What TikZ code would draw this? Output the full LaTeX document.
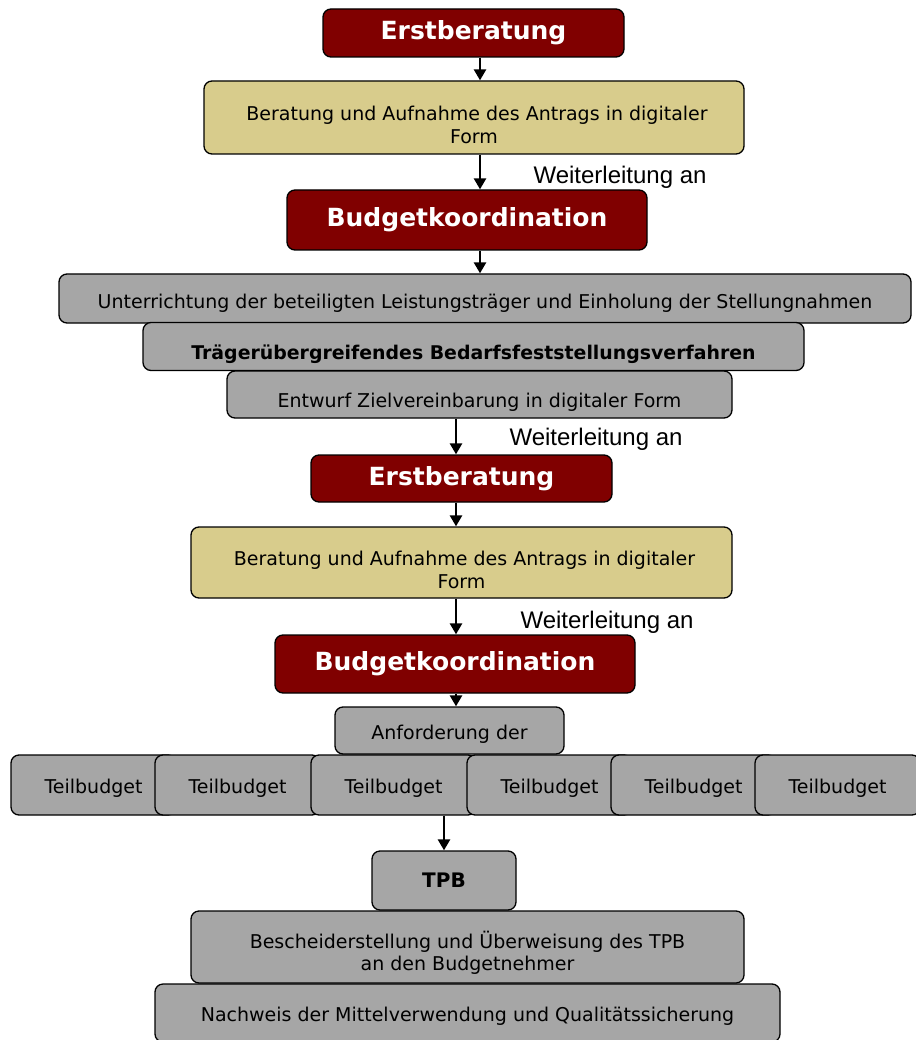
\documentclass[tikz,border=0pt]{standalone}
\usepackage{fontspec}
\setmainfont{DejaVu Sans}
\newfontfamily\arialfont{Liberation Sans}
\usetikzlibrary{arrows.meta}
\definecolor{darkred}{HTML}{800000}
\definecolor{khaki}{HTML}{D8CC8C}
\definecolor{boxgray}{HTML}{A6A6A6}
\tikzset{
  box/.style={draw=black, line width=1.3pt, rounded corners=8pt, inner sep=0pt, align=center,
    font=\fontsize{19}{22.5}\selectfont},
  title/.style={box, fill=darkred, text=white, font=\fontsize{25}{30}\selectfont\bfseries},
  khakibox/.style={box, fill=khaki},
  graybox/.style={box, fill=boxgray},
  lower/.style={text height=#1, text depth=5pt},
  arr/.style={-{Triangle[length=11pt,width=12pt]}, line width=2.6pt},
  fwd/.style={font=\arialfont\fontsize{24}{26}\selectfont, anchor=west}
}
\begin{document}
\begin{tikzpicture}[x=1pt, y=-1pt]
  \useasboundingbox[fill=white] (0,0) rectangle (915,1040);
  % upper part
  \node[title, minimum width=301, minimum height=48] (erst1) at (473.5,33) {Erstberatung};
  \node[khakibox, minimum width=540, minimum height=73, text height=52pt] (ber1) at (474,117.5)
    {\ Beratung und Aufnahme des Antrags in digitaler\\Form};
  \node[title, minimum width=360, minimum height=60] (budget1) at (467,220) {Budgetkoordination};
  \node[graybox, minimum width=852, minimum height=49, lower=24pt] (unter) at (485,298.5)
    {Unterrichtung der beteiligten Leistungsträger und Einholung der Stellungnahmen};
  \node[graybox, minimum width=661, minimum height=48, lower=30pt, font=\fontsize{18.9}{22}\selectfont\bfseries] (traeger) at (473.5,346.5)
    {Trägerübergreifendes Bedarfsfeststellungsverfahren};
  \node[graybox, minimum width=505, minimum height=47, lower=30pt] (entwurf) at (479.5,394.5)
    {Entwurf Zielvereinbarung in digitaler Form};
  % lower part
  \node[title, minimum width=301, minimum height=47] (erst2) at (461.5,478.5) {Erstberatung};
  \node[khakibox, minimum width=541, minimum height=71, text height=52pt] (ber2) at (461.5,562.5)
    {\ Beratung und Aufnahme des Antrags in digitaler\\Form};
  \node[title, minimum width=360, minimum height=58] (budget2) at (455,664) {Budgetkoordination};
  \node[graybox, minimum width=229, minimum height=47, lower=22pt] (anf) at (449.5,730.5) {Anforderung der};
  \foreach \x [count=\i] in {93.5,237.5,393.5,549.5,693.5,837.5}
    \node[graybox, minimum width=165, minimum height=60, lower=21pt] (teil\i) at (\x,785) {Teilbudget};
  \node[graybox, minimum width=144, minimum height=59, font=\fontsize{20}{24}\selectfont\bfseries] (tpb) at (444,880.5) {TPB};
  \node[graybox, minimum width=553, minimum height=72, text height=51pt] (besch) at (467.5,947)
    {Bescheiderstellung und Überweisung des TPB\\an den Budgetnehmer};
  \node[graybox, minimum width=625, minimum height=58, lower=21pt] (nachweis) at (467.5,1013)
    {Nachweis der Mittelverwendung und Qualitätssicherung};
  % arrows
  \coordinate (a1) at (480,0);
  \coordinate (a2) at (456,0);
  \coordinate (a3) at (444,0);
  \draw[arr] (erst1.south -| a1) -- (ber1.north -| a1);
  \draw[arr] (ber1.south -| a1) -- (budget1.north -| a1);
  \draw[arr] (budget1.south -| a1) -- (unter.north -| a1);
  \draw[arr] (entwurf.south -| a2) -- (erst2.north -| a2);
  \draw[arr] (erst2.south -| a2) -- (ber2.north -| a2);
  \draw[arr] (ber2.south -| a2) -- (budget2.north -| a2);
  \draw[arr] (budget2.south -| a2) -- (anf.north -| a2);
  \draw[arr] (teil3.south -| a3) -- (tpb.north -| a3);
  \node[fwd] (w1) at (530,177) {Weiterleitung an};
  \node[fwd] (w2) at (506,439) {Weiterleitung an};
  \node[fwd] (w3) at (517,622) {Weiterleitung an};
\end{tikzpicture}
\end{document}
